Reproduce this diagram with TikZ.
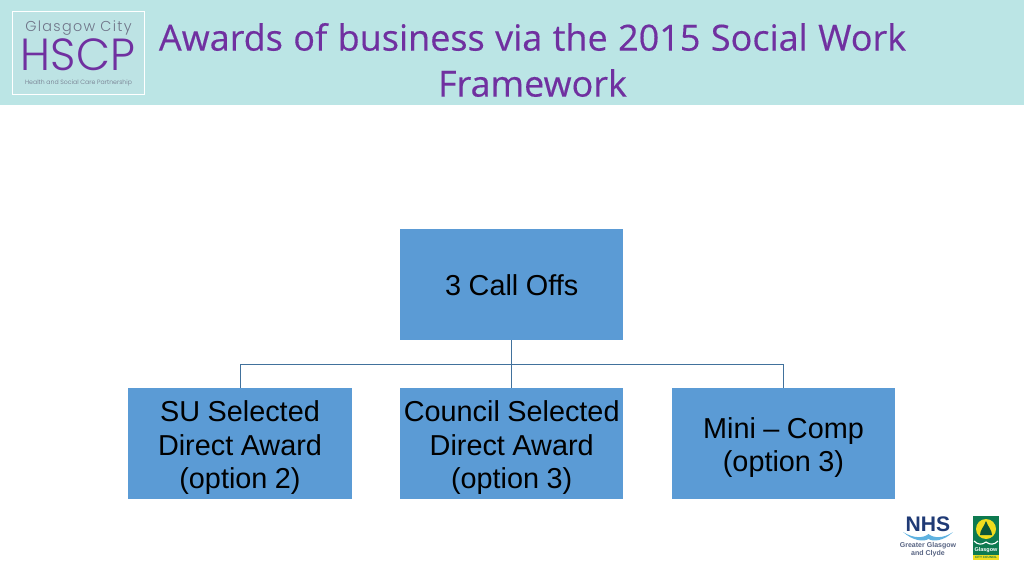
\documentclass[tikz,border=0pt]{standalone}
\usepackage{fontspec}
\setmainfont{Liberation Sans}
\newfontfamily\titlefont[FakeBold=0.35]{Open Sans}
\newfontfamily\logofont[UprightFont=* Light]{Poppins}
\newfontfamily\logowide[UprightFont=* Light,LetterSpace=9]{Poppins}
\usetikzlibrary{calc,positioning}
\definecolor{barteal}{HTML}{BBE5E5}
\definecolor{boxblue}{HTML}{5B9BD5}
\definecolor{linkblue}{HTML}{41719C}
\definecolor{titlepurple}{HTML}{7030A0}
\definecolor{logoteal}{HTML}{BDE3E4}
\definecolor{logogrey}{HTML}{6F7488}
\definecolor{nhsblue}{HTML}{1F3A75}
\definecolor{nhswave}{HTML}{5FB2E0}
\definecolor{citygreen}{HTML}{0E7A50}
\definecolor{cityyellow}{HTML}{F0DC1E}
\newcommand{\openline}[1]{\rule{0pt}{#1pt}}
\newcommand{\tightwords}[1]{\spaceskip=#1\fontdimen6\font\relax}
\begin{document}
\begin{tikzpicture}
        [x=0.025cm,y=-0.025cm,
          callbox/.style={
            rectangle,
            fill=boxblue,
            minimum width=223.5*0.025cm,
            minimum height=111*0.025cm,
            inner sep=0pt,
            text width=222*0.025cm,
            execute at begin node={\centering\tightwords{.26}},
            font=\fontsize{20.5}{23.8}\selectfont},
          link/.style={
            draw=linkblue,
            line width=.6pt},
          titletext/.style={
            text=titlepurple,
            text width=800*0.025cm,
            inner sep=0pt,
            execute at begin node={\centering\tightwords{.289}},
            font=\titlefont\fontsize{25.6}{32.7}\selectfont}]
        \useasboundingbox (0,0) rectangle (1024,576);
        \fill[barteal] (0,0) rectangle (1024,105);

        % logo top left
        \node[draw=white,line width=1.4pt,fill=logoteal,minimum width=132*0.025cm,minimum height=83*0.025cm,inner sep=0pt] (hscpbox) at (78.5,53) {};
        \node[text=logogrey,font=\logowide\fontsize{10.2}{12}\selectfont,inner sep=0pt] (hscpcity) at (78.5,28) {Glasgow City};
        \node[text=titlepurple,font=\logofont\fontsize{32}{32}\selectfont,inner sep=0pt,xscale=.98] (hscpname) at (78,55) {HSCP};
        \node[text=logogrey,font=\logofont\fontsize{4.4}{5}\selectfont,inner sep=0pt] (hscpline) at (78.5,82.5) {Health and Social Care Partnership};

        \node[titletext] (title) at (532.5,60) {Awards of business via the 2015 Social Work\\ Framework};

        \node[callbox] (root) at (511.7,284.7) {\openline{16.2}3 Call Offs};
        \node[callbox] (su) at (240,443.7) {\openline{20.5}SU Selected\\ Direct Award\\ (option 2)};
        \node[callbox] (council) at (511.7,443.7) {\openline{20.5}Council Selected\\ Direct Award\\ (option 3)};
        \node[callbox] (mini) at (783.5,443.7) {\openline{20.5}Mini -- Comp\\ (option 3)};

        \coordinate (bus) at (511.7,364);
        \draw[link,line width=.9pt] (root.south) -- (bus);
        \draw[link] (bus) -| (su.north);
        \draw[link] (bus) -- (council.north);
        \draw[link] (bus) -| (mini.north);

        % logos bottom right
        \node[text=nhsblue,font=\bfseries\fontsize{15}{16}\selectfont,inner sep=0pt] (nhs) at (928,524) {NHS};
        \fill[nhswave] (903,532) .. controls (914,539) and (924,538) .. (928.5,534) .. controls (933,538) and (943,539) .. (953,532)
          .. controls (944,541) and (933,542) .. (928.5,539) .. controls (924,542) and (913,541) .. (903,532) -- cycle;
        \node[text=logogrey!70!nhsblue,font=\bfseries\fontsize{5}{5.7}\selectfont,align=center,inner sep=0pt] (clyde) at (928,549.5) {Greater Glasgow\\ and Clyde};

        \fill[citygreen] (973,515.5) rectangle (999,555);
        \fill[cityyellow] (973,555) rectangle (999,560);
        \fill[cityyellow] (986,529) circle (10);
        \fill[citygreen!70!black] (986,521) .. controls (988,527) and (992,530) .. (992,535) -- (980,535) .. controls (980,530) and (984,527) .. (986,521) -- cycle;
        \draw[white,line width=.8pt] (974,541) .. controls (978,545) and (982,545) .. (986,542) .. controls (990,545) and (994,545) .. (998,541);
        \node[text=white,font=\bfseries\fontsize{3.9}{5}\selectfont,inner sep=0pt] (cityname) at (986,550) {Glasgow};
        \node[text=citygreen,font=\bfseries\fontsize{2.2}{3}\selectfont,inner sep=0pt] (citycouncil) at (986,557.5) {CITY COUNCIL};
      \end{tikzpicture}
\end{document}
